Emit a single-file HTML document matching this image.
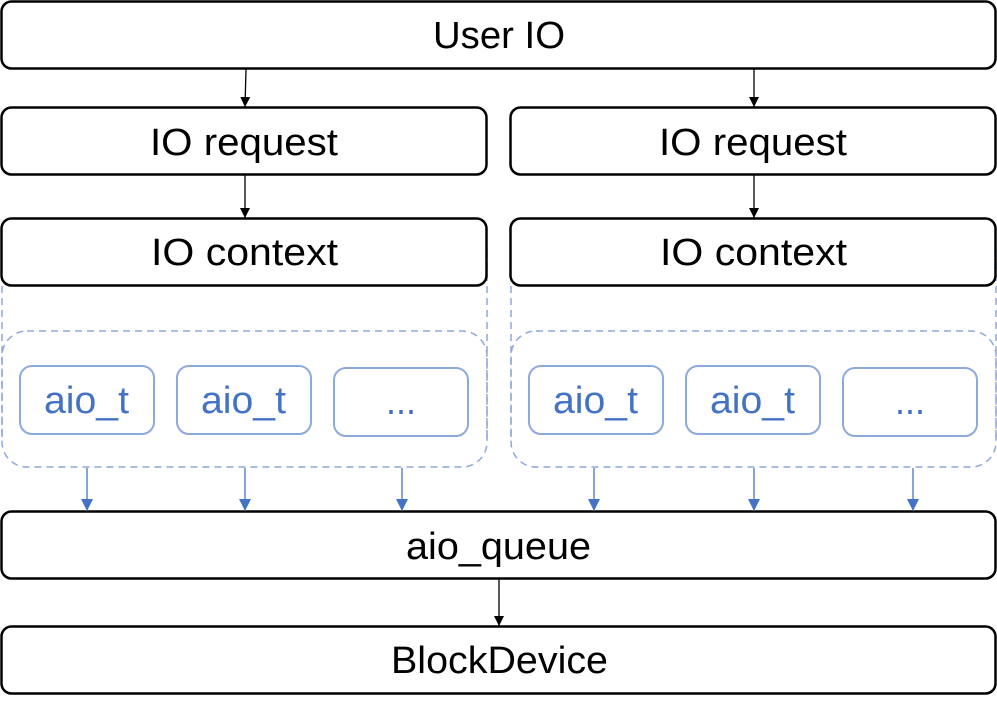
<!DOCTYPE html>
<html><head><style>body{margin:0;background:#fff}svg{display:block}</style></head><body>
<svg width="997" height="706" viewBox="0 0 997 706" xmlns="http://www.w3.org/2000/svg" font-family="'Segoe UI','Liberation Sans',sans-serif">
<defs>
<marker id="ab" markerWidth="10" markerHeight="10" refX="10" refY="5" orient="auto" markerUnits="userSpaceOnUse"><path d="M0,0 L10,5 L0,10 z" fill="#000"/></marker>
<marker id="abl" markerWidth="12" markerHeight="12" refX="12" refY="6" orient="auto" markerUnits="userSpaceOnUse"><path d="M0,0 L12,6 L0,12 z" fill="#4472C4"/></marker>
</defs>
<g fill="none" stroke="#8EA9DB" stroke-width="1.5" stroke-dasharray="7,5">
<path d="M2,250 V440 M487,250 V440"/>
<rect x="2" y="331" width="485" height="136" rx="25"/>
<path d="M511,250 V440 M996,250 V440"/>
<rect x="511" y="331" width="485" height="136" rx="25"/>
</g>
<g fill="#fff" stroke="#000" stroke-width="2.5">
<rect x="1.5" y="1.5" width="994" height="67" rx="10"/>
<rect x="1.5" y="107.5" width="485" height="67" rx="10"/>
<rect x="510.5" y="107.5" width="485" height="67" rx="10"/>
<rect x="1.5" y="218.5" width="485" height="67" rx="10"/>
<rect x="510.5" y="218.5" width="485" height="67" rx="10"/>
<rect x="1.5" y="511.5" width="994" height="67" rx="10"/>
<rect x="1.5" y="626.5" width="994" height="67" rx="10"/>
</g>
<g fill="#fff" stroke="#8EA9DB" stroke-width="2">
<rect x="20" y="366" width="134" height="68" rx="12"/>
<rect x="177" y="366" width="134" height="68" rx="12"/>
<rect x="334" y="368" width="134" height="68" rx="12"/>
<rect x="529" y="366" width="134" height="68" rx="12"/>
<rect x="686" y="366" width="134" height="68" rx="12"/>
<rect x="843" y="368" width="134" height="68" rx="12"/>
</g>
<g stroke="#000" stroke-width="1.3">
<line x1="246" y1="69" x2="245" y2="107" marker-end="url(#ab)"/>
<line x1="754" y1="69" x2="754" y2="107" marker-end="url(#ab)"/>
<line x1="245" y1="175" x2="245" y2="218" marker-end="url(#ab)"/>
<line x1="754" y1="175" x2="754" y2="218" marker-end="url(#ab)"/>
<line x1="499" y1="579" x2="499" y2="626" marker-end="url(#ab)"/>
</g>
<g stroke="#4472C4" stroke-width="1.3">
<line x1="87" y1="468" x2="87" y2="511" marker-end="url(#abl)"/>
<line x1="245" y1="468" x2="245" y2="511" marker-end="url(#abl)"/>
<line x1="402" y1="468" x2="402" y2="511" marker-end="url(#abl)"/>
<line x1="594" y1="468" x2="594" y2="511" marker-end="url(#abl)"/>
<line x1="754" y1="468" x2="754" y2="511" marker-end="url(#abl)"/>
<line x1="913" y1="468" x2="913" y2="511" marker-end="url(#abl)"/>
</g>
<g font-size="38" fill="#000" lengthAdjust="spacingAndGlyphs">
<text x="433" y="48" textLength="132" lengthAdjust="spacingAndGlyphs">User IO</text>
<text x="150" y="155" textLength="188" lengthAdjust="spacingAndGlyphs">IO request</text>
<text x="659" y="155" textLength="188" lengthAdjust="spacingAndGlyphs">IO request</text>
<text x="151" y="265" textLength="187" lengthAdjust="spacingAndGlyphs">IO context</text>
<text x="660" y="265" textLength="187" lengthAdjust="spacingAndGlyphs">IO context</text>
<text x="406" y="559" textLength="185" lengthAdjust="spacingAndGlyphs">aio_queue</text>
<text x="391" y="673" textLength="217" lengthAdjust="spacingAndGlyphs">BlockDevice</text>
</g>
<g font-size="38" fill="#4472C4">
<text x="44" y="413" textLength="85" lengthAdjust="spacingAndGlyphs">aio_t</text>
<text x="201" y="413" textLength="85" lengthAdjust="spacingAndGlyphs">aio_t</text>
<text x="386" y="414" textLength="30" lengthAdjust="spacingAndGlyphs">...</text>
<text x="553" y="413" textLength="85" lengthAdjust="spacingAndGlyphs">aio_t</text>
<text x="710" y="413" textLength="85" lengthAdjust="spacingAndGlyphs">aio_t</text>
<text x="895" y="414" textLength="30" lengthAdjust="spacingAndGlyphs">...</text>
</g>
</svg>
</body></html>
